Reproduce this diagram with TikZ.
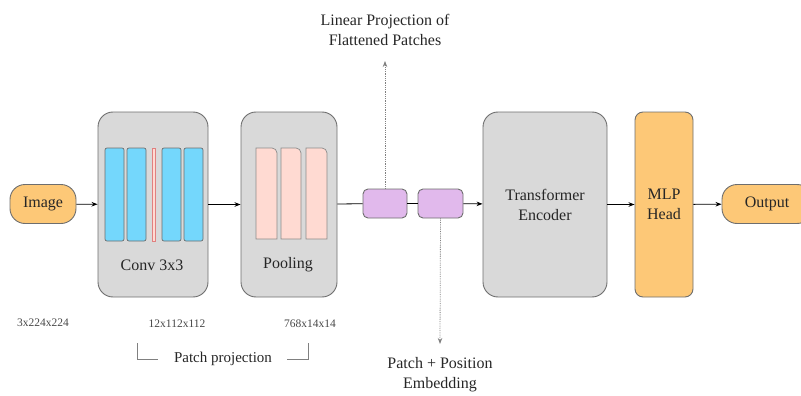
\documentclass[tikz,border=0pt]{standalone}
\usepackage{fontspec}
\setmainfont{Liberation Serif}
\usetikzlibrary{arrows.meta}
\definecolor{boxgray}{HTML}{D9D9D9}
\definecolor{edgegray}{HTML}{6E6E6E}
\definecolor{barblue}{HTML}{74D7FC}
\definecolor{barpink}{HTML}{FFDAD2}
\definecolor{thinred}{HTML}{E08080}
\definecolor{purp}{HTML}{E1B9EC}
\definecolor{orng}{HTML}{FDC877}
\definecolor{txt}{HTML}{262626}
\tikzset{
  big/.style={draw=edgegray, line width=0.9pt, fill=boxgray, rounded corners=15pt, minimum width=#1, minimum height=185pt, inner sep=0pt},
  pill/.style={draw=edgegray, line width=0.9pt, fill=orng, rounded corners=15pt, minimum height=39pt, inner sep=0pt, font=\fontsize{16}{19}\selectfont, text=txt},
  pbox/.style={draw=edgegray, line width=0.9pt, fill=purp, rounded corners=5pt, minimum height=29pt, inner sep=0pt},
  bar/.style={draw=edgegray, line width=0.7pt, fill=barblue, rounded corners=2pt},
  pbar/.style={draw=edgegray!80, line width=0.7pt, fill=barpink},
  lbl/.style={font=\fontsize{16}{20}\selectfont, text=txt, align=center},
  dim/.style={font=\fontsize{11.5}{14}\selectfont, text=txt!85},
  conn/.style={draw=black, line width=0.8pt},
  arr/.style={conn, -{Stealth[length=6pt,width=4.5pt]}},
  dots/.style={draw=gray, line width=0.8pt, densely dotted, -{Stealth[length=6pt,width=4.5pt]}},
}
\begin{document}
\begin{tikzpicture}[x=1pt,y=-1pt]
\useasboundingbox (0,0) rectangle (801,396);
% main nodes
\node[pill, minimum width=66pt] (img) at (43,204) {Image};
\node[big=110pt] (conv) at (153,204.5) {};
\node[big=96pt] (pool) at (289,204.5) {};
\node[pbox, minimum width=44pt] (p1) at (385,203.5) {};
\node[pbox, minimum width=45pt] (p2) at (440.5,203.5) {};
\node[big=124pt, lbl] (te) at (545,204.5) {Transformer\\Encoder};
\node[draw=edgegray, line width=0.9pt, fill=orng, rounded corners=8pt, minimum width=58pt, minimum height=185pt, inner sep=0pt, lbl] (mlp) at (664,204.5) {MLP\\Head};
\node[pill, minimum width=90pt] (out) at (767,204) {Output};
% conv bars
\draw[bar] (105,148) rectangle (124,241);
\draw[bar] (127,148) rectangle (146,241);
\draw[draw=thinred, line width=0.8pt, fill=barpink] (152,148) rectangle (155.5,241);
\draw[bar] (162,148) rectangle (181,241);
\draw[bar] (184,148) rectangle (203,241);
\node[lbl] (convl) at (152,265) {Conv 3x3};
% pooling bars
\draw[pbar] (256,239) -- (256,148) [rounded corners=5pt] -- (277,148) [sharp corners] -- (277,239) -- cycle;
\draw[pbar] (281,239) -- (281,148) [rounded corners=5pt] -- (301,148) [sharp corners] -- (301,239) -- cycle;
\draw[pbar] (306,239) -- (306,148) [rounded corners=5pt] -- (327,148) [sharp corners] -- (327,239) -- cycle;
\node[lbl] (pooll) at (288,265) {Pooling};
% connectors
\draw[arr] (img) -- (conv);
\draw[arr] (conv) -- (pool);
\draw[conn] (pool) -- (p1);
\draw[conn] (p1) -- (p2);
\draw[arr] (p2) -- (te);
\draw[arr] (te) -- (mlp);
\draw[arr] (mlp) -- (out);
% annotations
\node[lbl] (lin) at (385,30) {Linear Projection of\\Flattened Patches};
\coordinate (linend) at (385,61);
\draw[dots] (p1.north) -- (linend);
\node[lbl] (pe) at (440,375) {Patch + Position\\Embedding};
\coordinate (peend) at (440,344);
\draw[dots] (p2.south) -- (peend);
% dims
\node[dim] (d1) at (43,323) {3x224x224};
\node[dim] (d2) at (177,324) {12x112x112};
\node[dim] (d3) at (310,324) {768x14x14};
\node[font=\fontsize{15}{18}\selectfont, text=txt] (pp) at (223,359) {Patch projection};
\coordinate (bl1) at (137,343);
\coordinate (bl2) at (137,359);
\coordinate (bl3) at (158,359);
\coordinate (br1) at (308,343);
\coordinate (br2) at (308,359);
\coordinate (br3) at (287,359);
\draw[draw=gray, line width=0.8pt] (bl1) -- (bl2) -- (bl3);
\draw[draw=gray, line width=0.8pt] (br1) -- (br2) -- (br3);
\end{tikzpicture}
\end{document}
